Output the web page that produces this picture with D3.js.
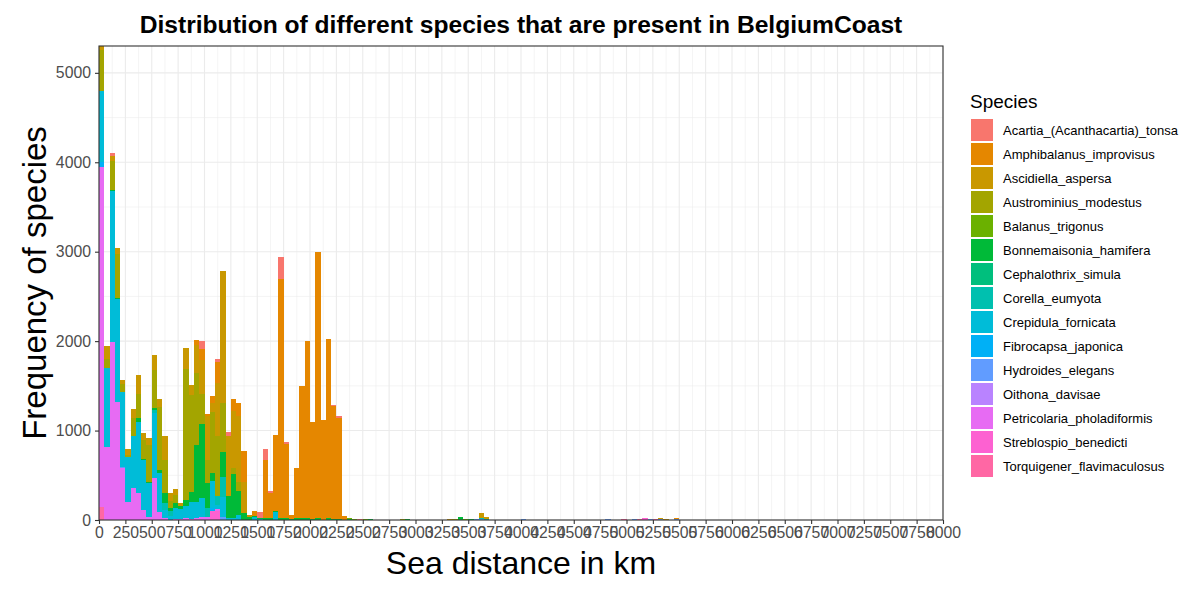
<!DOCTYPE html>
<html>
<head>
<meta charset="utf-8">
<script src="https://cdn.jsdelivr.net/npm/d3@7"></script>
<style>
  body { margin: 0; background: #fff; }
  text { font-family: "Liberation Sans", Arial, sans-serif; }
</style>
</head>
<body>
<div id="chart"></div>
<script>
// Species (legend order) and their ggplot hue colours
var species = ["Acartia_(Acanthacartia)_tonsa", "Amphibalanus_improvisus", "Ascidiella_aspersa",
    "Austrominius_modestus", "Balanus_trigonus", "Bonnemaisonia_hamifera", "Cephalothrix_simula",
    "Corella_eumyota", "Crepidula_fornicata", "Fibrocapsa_japonica", "Hydroides_elegans",
    "Oithona_davisae", "Petricolaria_pholadiformis", "Streblospio_benedicti", "Torquigener_flavimaculosus"];
var colours = ["#F8766D", "#E58700", "#C99800", "#A3A500", "#6BB100", "#00BA38", "#00BF7D",
    "#00C0AF", "#00BCD8", "#00B0F6", "#619CFF", "#B983FF", "#E76BF3", "#FD61D1", "#FF67A4"];

// Counts per 50 km bin, as [bin start in km, count]
var acartia = [[100, 43], [950, 79], [1100, 26], [1200, 45], [1500, 70], [1550, 123], [1600, 26],
    [1700, 250], [1750, 15], [2200, 19], [2250, 22], [2450, 11]];
var amphibalanus = [[900, 56], [950, 123], [1000, 23], [1050, 76], [1100, 237], [1250, 136], [1300, 154],
    [1350, 336], [1450, 48], [1550, 650], [1600, 280], [1650, 848], [1700, 2672], [1750, 833], [1800, 40],
    [1850, 570], [1900, 1485], [1950, 1990], [2000, 1075], [2050, 2980], [2100, 1114], [2150, 2010],
    [2200, 1255], [2250, 1130], [2300, 49], [5450, 15]];
var ascidiella = [[0, 46], [50, 150], [100, 55], [150, 65], [200, 51], [250, 64], [300, 97], [350, 213],
    [400, 75], [450, 75], [500, 164], [550, 82], [600, 269], [650, 93], [700, 71], [750, 39], [800, 238],
    [850, 108], [900, 310], [950, 381], [1000, 485], [1050, 94], [1100, 600], [1150, 1472], [1200, 665],
    [1250, 635], [1300, 728], [1350, 355], [1400, 26], [3300, 11], [3600, 60], [3650, 25], [5300, 15], [5350, 11]];
var austrominius = [[0, 452], [50, 94], [100, 315], [150, 496], [200, 88], [250, 30], [300, 202], [350, 265],
    [400, 209], [450, 410], [500, 429], [550, 708], [600, 373], [650, 75], [700, 93], [800, 1470], [850, 1084],
    [900, 803], [950, 337], [1000, 262], [1050, 684], [1100, 665], [1150, 553], [1250, 67], [1300, 101],
    [2850, 11], [3350, 11]];
var balanus = [[2350, 10], [2400, 11], [2500, 11], [3450, 11]];
var bonnemaisonia = [[100, 20], [150, 12], [350, 45], [400, 15], [450, 11], [500, 19], [550, 38], [600, 111],
    [650, 37], [700, 48], [750, 35], [800, 60], [850, 110], [900, 635], [950, 833], [1000, 280], [1050, 93],
    [1150, 269], [1200, 250], [1250, 494], [1300, 273], [1350, 75], [1400, 30], [1450, 18], [1500, 13],
    [1550, 20], [1600, 19], [1650, 20], [1700, 19], [1750, 19], [1800, 16], [1850, 17], [1900, 17], [1950, 17],
    [2000, 16], [2050, 17], [2150, 19], [2200, 15], [2250, 14], [2350, 9], [2550, 11], [2900, 11], [3400, 30],
    [3500, 11]];
var cephalothrix = [];
var corella = [[500, 37], [600, 75], [650, 56], [1000, 94], [1100, 100], [1150, 224], [3600, 6], [3650, 12]];
var crepidula = [[0, 798], [50, 885], [100, 1690], [150, 1152], [200, 832], [250, 496], [300, 582], [350, 794],
    [400, 559], [450, 388], [500, 728], [550, 429], [600, 93], [650, 45], [700, 127], [750, 110], [800, 140],
    [850, 190], [900, 180], [950, 206], [1050, 306], [1100, 50], [1150, 225], [1200, 19], [1250, 25],
    [1300, 56], [1450, 30], [1500, 10], [1650, 85]];
var fibrocapsa = [[0, 60], [1050, 30]];
var hydroides = [[200, 10], [1150, 37], [3550, 11], [3600, 12], [4000, 11], [4800, 11], [5050, 11],
    [5200, 11], [5300, 7], [5450, 7]];
var oithona = [];
var petricolaria = [[0, 3794], [50, 820], [100, 1985], [150, 1317], [200, 586], [250, 205], [300, 362],
    [350, 306], [400, 112], [450, 30], [500, 466], [550, 93], [600, 19], [700, 11], [750, 10], [800, 20],
    [850, 15], [900, 26], [950, 37], [1000, 37], [1100, 19]];
var streblospio = [[1050, 100], [1100, 100], [5150, 22]];
var torquigener = [[0, 150], [4950, 11], [5100, 11], [5250, 11]];

var speciesCounts = [acartia, amphibalanus, ascidiella, austrominius, balanus, bonnemaisonia, cephalothrix,
    corella, crepidula, fibrocapsa, hydroides, oithona, petricolaria, streblospio, torquigener];

var binWidth = 50;
var xTicks = d3.range(0, 8001, 250);
var yTicks = [0, 1000, 2000, 3000, 4000, 5000];

// Set svg dimensions and panel position
var svgWidth = 1202;
var svgHeight = 600;
var panel = { left: 99, right: 943, top: 46, bottom: 520 };

var svg = d3.select("#chart")
    .append("svg")
    .attr("width", svgWidth)
    .attr("height", svgHeight);

// Build one row per bin with a column for each species
var bins = d3.range(0, 8000, binWidth).map(function(start) {
    var row = { start: start };
    species.forEach(function(s) { row[s] = 0; });
    return row;
});
speciesCounts.forEach(function(list, i) {
    list.forEach(function(p) {
        bins[p[0] / binWidth][species[i]] += p[1];
    });
});

// First species sits on top of the stack, like ggplot
var stacked = d3.stack().keys(species.slice().reverse())(bins);

var xScale = d3.scaleLinear().domain([0, 8000]).range([panel.left, panel.right]);
var yScale = d3.scaleLinear().domain([0, 5300]).range([panel.bottom, panel.top]);
var colour = d3.scaleOrdinal().domain(species).range(colours);

// Grid lines
var grid = svg.append("g");
grid.selectAll(".xminor")
    .data(d3.range(125, 8000, 250))
    .enter().append("line")
    .attr("x1", d => xScale(d)).attr("x2", d => xScale(d))
    .attr("y1", panel.top).attr("y2", panel.bottom)
    .attr("stroke", "#EBEBEB").attr("stroke-width", 0.55);
grid.selectAll(".yminor")
    .data(d3.range(500, 5300, 1000))
    .enter().append("line")
    .attr("x1", panel.left).attr("x2", panel.right)
    .attr("y1", d => yScale(d)).attr("y2", d => yScale(d))
    .attr("stroke", "#EBEBEB").attr("stroke-width", 0.55);
grid.selectAll(".xmajor")
    .data(xTicks)
    .enter().append("line")
    .attr("x1", d => xScale(d)).attr("x2", d => xScale(d))
    .attr("y1", panel.top).attr("y2", panel.bottom)
    .attr("stroke", "#EBEBEB").attr("stroke-width", 1.1);
grid.selectAll(".ymajor")
    .data(yTicks)
    .enter().append("line")
    .attr("x1", panel.left).attr("x2", panel.right)
    .attr("y1", d => yScale(d)).attr("y2", d => yScale(d))
    .attr("stroke", "#EBEBEB").attr("stroke-width", 1.1);

// Stacked histogram bars
svg.append("clipPath").attr("id", "clip")
    .append("rect")
    .attr("x", panel.left).attr("y", panel.top)
    .attr("width", panel.right - panel.left).attr("height", panel.bottom - panel.top);

var barsGroup = svg.append("g").attr("clip-path", "url(#clip)");
barsGroup.selectAll("g")
    .data(stacked)
    .enter()
    .append("g")
    .attr("fill", d => colour(d.key))
    .selectAll("rect")
    .data(d => d.filter(p => p[1] > p[0]))
    .enter()
    .append("rect")
    .attr("x", d => xScale(d.data.start))
    .attr("width", xScale(binWidth) - xScale(0))
    .attr("y", d => yScale(d[1]))
    .attr("height", d => yScale(d[0]) - yScale(d[1]))
    .attr("shape-rendering", "crispEdges");

// Panel border
svg.append("rect")
    .attr("x", panel.left).attr("y", panel.top)
    .attr("width", panel.right - panel.left).attr("height", panel.bottom - panel.top)
    .attr("fill", "none").attr("stroke", "#333333").attr("stroke-width", 1.1);

// Axes
var bottomAxis = d3.axisBottom(xScale).tickValues(xTicks).tickSize(4).tickPadding(3).tickFormat(d3.format("d"));
var leftAxis = d3.axisLeft(yScale).tickValues(yTicks).tickSize(4).tickPadding(4).tickFormat(d3.format("d"));

var xAxis = svg.append("g")
    .attr("transform", `translate(0, ${panel.bottom})`)
    .call(bottomAxis);
var yAxis = svg.append("g")
    .attr("transform", `translate(${panel.left}, 0)`)
    .call(leftAxis);

[xAxis, yAxis].forEach(function(ax) {
    ax.select(".domain").remove();
    ax.selectAll("line").attr("stroke", "#333333").attr("stroke-width", 1.1);
    ax.selectAll("text")
        .attr("fill", "#4D4D4D")
        .style("font-size", "15.8px")
        .style("font-family", "Liberation Sans, Arial, sans-serif");
});

// Titles
svg.append("text")
    .attr("x", (panel.left + panel.right) / 2)
    .attr("y", 33)
    .attr("text-anchor", "middle")
    .style("font-size", "24.6px")
    .style("font-weight", "bold")
    .text("Distribution of different species that are present in BelgiumCoast");

svg.append("text")
    .attr("x", (panel.left + panel.right) / 2)
    .attr("y", 574)
    .attr("text-anchor", "middle")
    .style("font-size", "32px")
    .text("Sea distance in km");

svg.append("text")
    .attr("transform", `translate(46, ${(panel.top + panel.bottom) / 2}) rotate(-90)`)
    .attr("text-anchor", "middle")
    .style("font-size", "33px")
    .text("Frequency of species");

// Legend
var legend = svg.append("g").attr("transform", "translate(970, 0)");
legend.append("text")
    .attr("x", 0)
    .attr("y", 108)
    .style("font-size", "19px")
    .text("Species");

var keys = legend.selectAll(".key")
    .data(species)
    .enter()
    .append("g")
    .attr("transform", (d, i) => `translate(0, ${119 + i * 24})`);
keys.append("rect")
    .attr("x", 1).attr("y", 0)
    .attr("width", 22).attr("height", 22)
    .attr("fill", d => colour(d));
keys.append("text")
    .attr("x", 33).attr("y", 11)
    .attr("dy", "0.35em")
    .style("font-size", "13px")
    .text(d => d);
</script>
</body>
</html>
